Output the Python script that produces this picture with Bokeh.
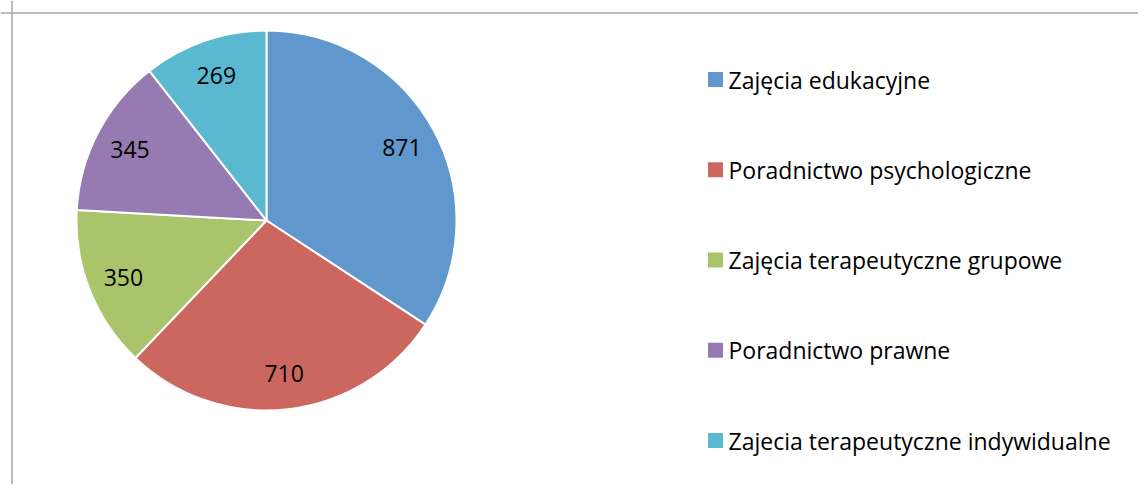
import math
from bokeh.plotting import figure
from bokeh.models import Range1d, Span, ColumnDataSource
from bokeh.core.properties import value
from bokeh.embed import file_html
from bokeh.resources import INLINE

categories = ["Zajęcia edukacyjne", "Poradnictwo psychologiczne",
              "Zajęcia terapeutyczne grupowe", "Poradnictwo prawne",
              "Zajecia terapeutyczne indywidualne"]
values = [871, 710, 350, 345, 269]
colors = ["#6097CC", "#CC6760", "#A9C46B", "#957BB1", "#5BB8D1"]

W, H = 1138, 484
p = figure(width=W, height=H, output_backend="svg", toolbar_location=None,
           x_range=Range1d(0, W), y_range=Range1d(0, H), min_border=0)
p.axis.visible = False
p.grid.visible = False
p.outline_line_color = None
p.background_fill_color = "white"

# chart border (left and top edges visible)
p.add_layout(Span(location=11.5, dimension="height", line_color="#A6A6A6", line_width=1.5))
p.add_layout(Span(location=H - 12.5, dimension="width", line_color="#A6A6A6", line_width=1.5))

cx, cy, r = 266, 264, 190
total = sum(values)
starts, ends, lx, ly = [], [], [], []
cum = 0.0
for v in values:
    a0 = math.pi / 2 - 2 * math.pi * cum / total
    cum += v
    a1 = math.pi / 2 - 2 * math.pi * cum / total
    starts.append(a0)
    ends.append(a1)
    mid = (a0 + a1) / 2
    lx.append(cx + 0.81 * r * math.cos(mid))
    ly.append(cy + 0.81 * r * math.sin(mid))

src = ColumnDataSource(dict(start=starts, end=ends, color=colors,
                            lx=lx, ly=ly, lab=[str(v) for v in values]))
p.wedge(x=cx, y=cy, radius=r, start_angle="start", end_angle="end",
        direction="clock", fill_color="color", line_color="white",
        line_width=2, source=src)
p.text(x="lx", y="ly", text="lab", source=src, text_align="center",
       text_baseline="middle", text_font=value("Open Sans"),
       text_font_size="23px", text_color="black")

# legend
leg_y = [405 - i * 90.25 for i in range(len(categories))]
lsrc = ColumnDataSource(dict(y=leg_y, name=categories, color=colors))
p.scatter(x=715, y="y", marker="square", size=15, fill_color="color",
          line_color=None, source=lsrc)
p.text(x=728, y="y", text="name", source=lsrc, text_align="left",
       text_baseline="middle", text_font=value("Open Sans"),
       text_font_size="23px", text_color="black")

open("out.html", "w").write(file_html(p, INLINE))
